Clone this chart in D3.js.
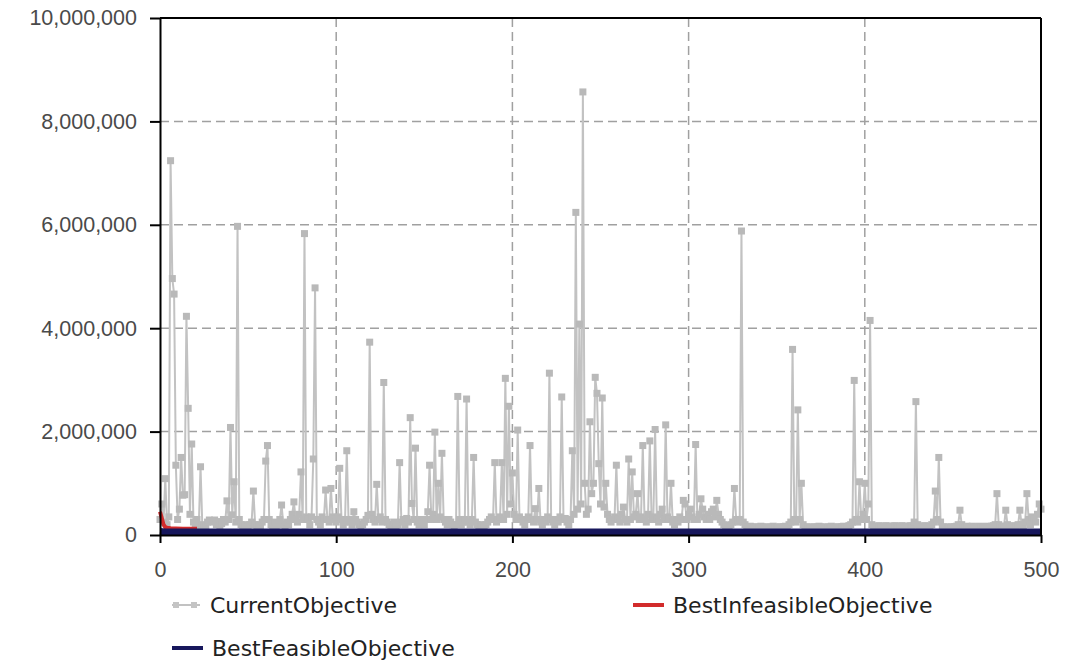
<!DOCTYPE html>
<html>
<head>
<meta charset="utf-8">
<title>Objective progress</title>
<script src="https://d3js.org/d3.v7.min.js"></script>
<style>
  body { margin: 0; background: #fff; }
  svg { display: block; font-family: "DejaVu Sans", Verdana, sans-serif; }
  .axis path, .axis line { stroke: #000; stroke-width: 2; }
  .axis text { font-size: 21.5px; fill: #4a4a4a; }
  .grid line { stroke: #a0a0a0; stroke-width: 1.5; stroke-dasharray: 9,5; }
  .legend text { font-size: 22px; fill: #222; }
</style>
</head>
<body>
<div id="chart"></div>
<script>
// CurrentObjective, one value per iteration 0..500
const currentObjective = [
  300000, 600000, 250000, 1090000, 200000, 350000, 7240000, 4960000, 4660000, 1350000,
  300000, 500000, 1500000, 770000, 780000, 4230000, 2450000, 400000, 1760000, 250000,
  200000, 300000, 150000, 1320000, 200000, 150000, 180000, 250000, 290000, 280000,
  250000, 290000, 200000, 260000, 180000, 220000, 300000, 250000, 660000, 300000,
  2080000, 390000, 1030000, 250000, 5970000, 300000, 200000, 150000, 180000, 200000,
  150000, 200000, 250000, 850000, 200000, 150000, 200000, 180000, 250000, 300000,
  1430000, 1730000, 300000, 200000, 150000, 250000, 180000, 200000, 300000, 580000,
  200000, 150000, 250000, 200000, 300000, 400000, 640000, 300000, 250000, 400000,
  1220000, 300000, 5830000, 350000, 300000, 200000, 350000, 1470000, 4780000, 300000,
  250000, 200000, 350000, 300000, 870000, 300000, 250000, 900000, 350000, 300000,
  250000, 350000, 1290000, 300000, 200000, 250000, 1630000, 300000, 250000, 200000,
  450000, 300000, 250000, 200000, 150000, 200000, 250000, 300000, 380000, 3730000,
  400000, 300000, 250000, 980000, 300000, 350000, 250000, 2950000, 300000, 250000,
  200000, 150000, 200000, 250000, 180000, 200000, 1400000, 250000, 300000, 200000,
  320000, 250000, 2270000, 610000, 300000, 1680000, 250000, 200000, 300000, 250000,
  200000, 300000, 450000, 1350000, 300000, 400000, 1990000, 300000, 1000000, 350000,
  1580000, 300000, 250000, 200000, 300000, 250000, 200000, 150000, 200000, 2680000,
  300000, 200000, 250000, 300000, 2630000, 250000, 200000, 300000, 1500000, 250000,
  200000, 150000, 200000, 180000, 150000, 200000, 250000, 300000, 350000, 300000,
  1400000, 250000, 300000, 350000, 1400000, 300000, 3030000, 400000, 2490000, 600000,
  1200000, 400000, 300000, 2030000, 350000, 300000, 250000, 200000, 300000, 350000,
  1730000, 300000, 250000, 510000, 300000, 900000, 250000, 200000, 300000, 250000,
  350000, 3130000, 300000, 250000, 200000, 300000, 250000, 350000, 2670000, 300000,
  320000, 250000, 200000, 300000, 1630000, 400000, 6240000, 500000, 4080000, 600000,
  8570000, 1000000, 400000, 500000, 2190000, 800000, 1000000, 3050000, 2740000, 1380000,
  600000, 2650000, 540000, 1000000, 400000, 300000, 250000, 300000, 350000, 1350000,
  300000, 250000, 400000, 540000, 300000, 250000, 1470000, 300000, 1220000, 350000,
  400000, 800000, 300000, 350000, 1730000, 300000, 250000, 400000, 1820000, 300000,
  350000, 2040000, 300000, 250000, 400000, 500000, 300000, 2130000, 350000, 300000,
  1000000, 250000, 200000, 300000, 250000, 350000, 300000, 670000, 600000, 300000,
  400000, 500000, 350000, 300000, 1750000, 300000, 400000, 700000, 500000, 350000,
  300000, 400000, 300000, 450000, 500000, 350000, 670000, 400000, 300000, 250000,
  200000, 180000, 150000, 180000, 200000, 250000, 900000, 300000, 250000, 300000,
  5880000, 250000, 200000, 160000, 150000, 170000, 150000, 140000, 160000, 150000,
  150000, 170000, 160000, 150000, 140000, 150000, 160000, 150000, 170000, 150000,
  140000, 150000, 160000, 150000, 160000, 170000, 150000, 200000, 250000, 3590000,
  300000, 250000, 2420000, 300000, 1000000, 200000, 150000, 160000, 150000, 140000,
  150000, 160000, 150000, 150000, 170000, 160000, 150000, 140000, 150000, 160000,
  150000, 170000, 150000, 140000, 150000, 160000, 150000, 160000, 170000, 150000,
  160000, 180000, 200000, 250000, 2990000, 300000, 250000, 1030000, 300000, 400000,
  1000000, 300000, 600000, 4150000, 200000, 170000, 160000, 170000, 180000, 170000,
  160000, 170000, 180000, 170000, 160000, 170000, 170000, 180000, 170000, 160000,
  170000, 180000, 170000, 160000, 170000, 170000, 180000, 170000, 250000, 2580000,
  200000, 170000, 160000, 170000, 180000, 170000, 160000, 170000, 200000, 250000,
  850000, 300000, 1500000, 250000, 150000, 160000, 150000, 140000, 150000, 160000,
  150000, 160000, 170000, 200000, 480000, 200000, 150000, 160000, 170000, 150000,
  160000, 170000, 150000, 160000, 150000, 170000, 160000, 150000, 160000, 170000,
  150000, 160000, 170000, 180000, 200000, 800000, 200000, 170000, 160000, 170000,
  480000, 200000, 170000, 160000, 170000, 180000, 170000, 200000, 480000, 200000,
  180000, 250000, 800000, 300000, 200000, 350000, 300000, 250000, 400000, 600000,
  500000
];

// BestInfeasibleObjective: only present in the first iterations
const infeasibleIter = [0, 1, 2, 3, 4, 6, 9, 13, 21];
const infeasibleVals = [450000, 330000, 200000, 150000, 140000, 130000, 125000, 120000, 120000];

// BestFeasibleObjective: flat line along the bottom
const feasibleIter = [0, 3, 500];
const feasibleVals = [70000, 60000, 60000];

const xTicks = [0, 100, 200, 300, 400, 500];
const yTicks = [0, 2000000, 4000000, 6000000, 8000000, 10000000];

const seriesNames = ["CurrentObjective", "BestInfeasibleObjective", "BestFeasibleObjective"];
const seriesColors = ["#c2c2c2", "#d22b2b", "#17175c"];

const W = 1071, H = 663;
const margin = { top: 18, right: 30, bottom: 128, left: 160 };
const width = W - margin.left - margin.right;
const height = H - margin.top - margin.bottom;

const svg = d3.select("#chart").append("svg")
  .attr("width", W)
  .attr("height", H);

const g = svg.append("g")
  .attr("transform", `translate(${margin.left},${margin.top})`);

const x = d3.scaleLinear().domain([0, 500]).range([0, width]);
const y = d3.scaleLinear().domain([0, 10000000]).range([height, 0]);

// dashed grid
const grid = g.append("g").attr("class", "grid");
grid.selectAll(".gy")
  .data(yTicks.filter(v => v > 0 && v < 10000000))
  .enter().append("line")
  .attr("x1", 0).attr("x2", width)
  .attr("y1", d => y(d)).attr("y2", d => y(d));
grid.selectAll(".gx")
  .data(xTicks.filter(v => v > 0 && v < 500))
  .enter().append("line")
  .attr("y1", 0).attr("y2", height)
  .attr("x1", d => x(d)).attr("x2", d => x(d));

// current objective: line + square markers
const curData = currentObjective.map((v, i) => ({ i: i, v: v }));
const line = d3.line().x(d => x(d.i)).y(d => y(d.v));

g.append("path")
  .datum(curData)
  .attr("fill", "none")
  .attr("stroke", seriesColors[0])
  .attr("stroke-width", 2)
  .attr("d", line);

g.selectAll(".mk")
  .data(curData)
  .enter().append("rect")
  .attr("x", d => x(d.i) - 3.5)
  .attr("y", d => y(d.v) - 3.5)
  .attr("width", 7)
  .attr("height", 7)
  .attr("fill", "#b9b9b9");

// best infeasible
g.append("path")
  .datum(infeasibleIter.map((it, k) => ({ i: it, v: infeasibleVals[k] })))
  .attr("fill", "none")
  .attr("stroke", seriesColors[1])
  .attr("stroke-width", 4)
  .attr("d", line);

// best feasible
g.append("path")
  .datum(feasibleIter.map((it, k) => ({ i: it, v: feasibleVals[k] })))
  .attr("fill", "none")
  .attr("stroke", seriesColors[2])
  .attr("stroke-width", 7)
  .attr("d", line);

// frame top / right
g.append("line").attr("x1", 0).attr("x2", width).attr("y1", 0).attr("y2", 0)
  .attr("stroke", "#000").attr("stroke-width", 2);
g.append("line").attr("x1", width).attr("x2", width).attr("y1", 0).attr("y2", height)
  .attr("stroke", "#000").attr("stroke-width", 2);

// axes
g.append("g")
  .attr("class", "axis")
  .call(d3.axisLeft(y).tickValues(yTicks).tickFormat(d3.format(",")).tickSize(10).tickPadding(13).tickSizeOuter(0));

g.append("g")
  .attr("class", "axis")
  .attr("transform", `translate(0,${height})`)
  .call(d3.axisBottom(x).tickValues(xTicks).tickSize(8).tickPadding(19).tickSizeOuter(0));

// legend
const legend = svg.append("g").attr("class", "legend");
const items = [
  { name: seriesNames[0], color: seriesColors[0], lx: 172, ly: 605, kind: "marker" },
  { name: seriesNames[1], color: seriesColors[1], lx: 633, ly: 605, kind: "line" },
  { name: seriesNames[2], color: seriesColors[2], lx: 172, ly: 648, kind: "line" }
];
items.forEach(it => {
  const item = legend.append("g");
  if (it.kind === "marker") {
    item.append("line").attr("x1", it.lx).attr("x2", it.lx + 28)
      .attr("y1", it.ly).attr("y2", it.ly)
      .attr("stroke", it.color).attr("stroke-width", 2);
    [it.lx + 4, it.lx + 22].forEach(cx => {
      item.append("rect").attr("x", cx - 3).attr("y", it.ly - 3)
        .attr("width", 6).attr("height", 6).attr("fill", "#c4c4c4");
    });
  } else {
    item.append("line").attr("x1", it.lx).attr("x2", it.lx + 31)
      .attr("y1", it.ly).attr("y2", it.ly)
      .attr("stroke", it.color).attr("stroke-width", 4);
  }
  item.append("text")
    .attr("x", it.lx + (it.kind === "marker" ? 38 : 40))
    .attr("y", it.ly)
    .attr("dy", "0.36em")
    .text(it.name);
});
</script>
</body>
</html>
